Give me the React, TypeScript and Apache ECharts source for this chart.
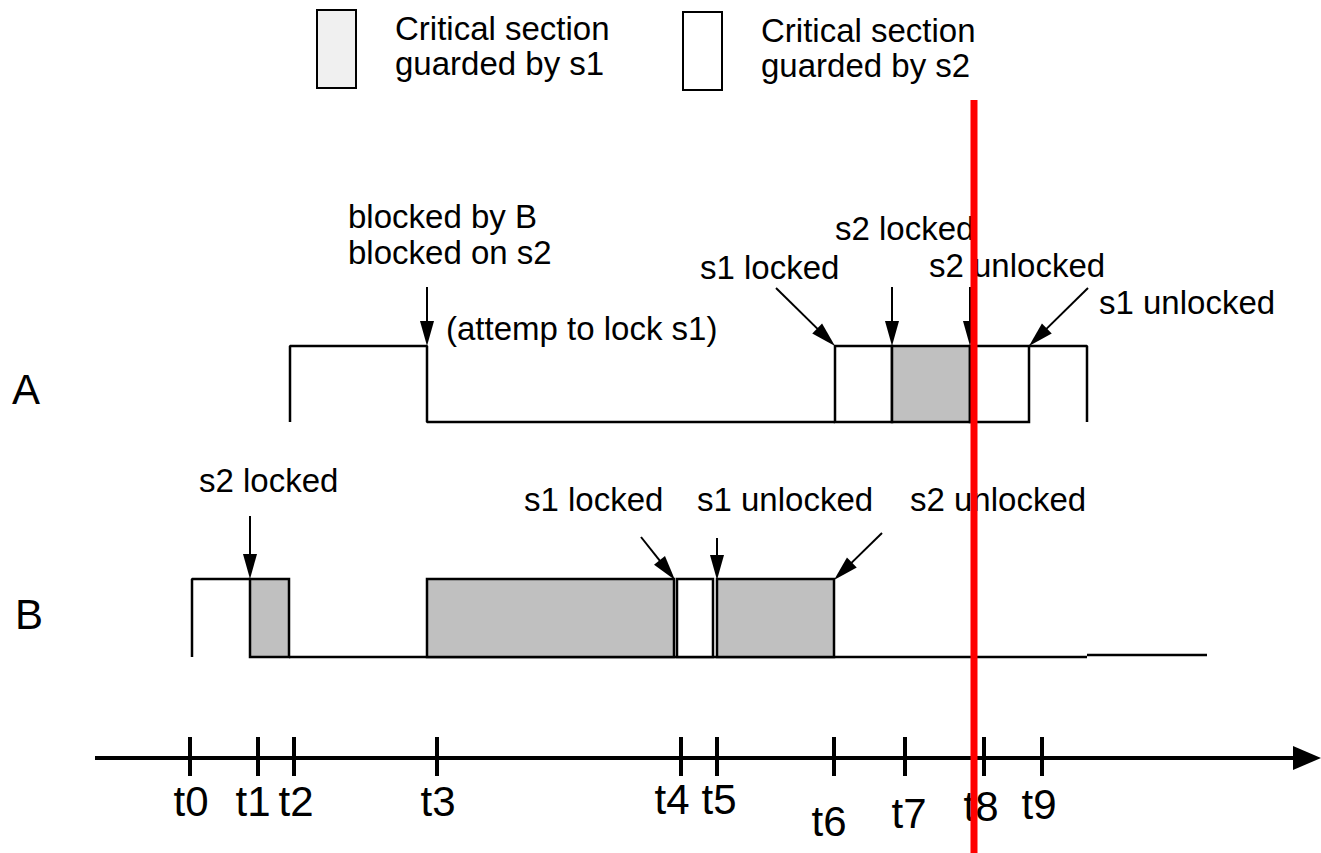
import React, { useEffect, useRef } from "react";
import * as echarts from "echarts";

const FONT = '"Liberation Sans", Arial, Helvetica, sans-serif';

// Time axis (x in time units, y in level units)
const tickTimes = [190, 258, 294, 437, 681, 717, 834, 905, 984, 1042];
const tickLabels = ["t0", "t1", "t2", "t3", "t4", "t5", "t6", "t7", "t8", "t9"];
const tickLabelX = [191, 253, 296, 438, 672, 719, 829, 909, 981, 1039];
const tickLabelY = [801, 801, 801, 801, 799, 799, 821, 813, 806, 804];
const axisLevel = 758;
const axisStart = 95;
const axisEnd = 1321;

// Lanes: top/bottom levels
const laneNames = ["A", "B"];
const laneHigh = [346, 579];
const laneLow = [422, 657];
const laneLabelX = [12, 15];
const laneLabelY = [389, 614];

// Waveform segments (time, level)
const waveA1 = [[290, 422], [290, 346], [427, 346], [427, 422], [835, 422]];
const waveA2 = [[1029, 346], [1087, 346], [1087, 422]];
const waveB1 = [[192, 657], [192, 579], [250, 579]];
const waveB2 = [[289, 657], [1087, 657]];
const waveB3 = [[1087, 655], [1207, 655]];

// Critical sections: lane index, start, end, guarded-by
const secLane = [0, 0, 0, 1, 1, 1, 1];
const secStart = [835, 892, 970, 250, 427, 677, 717];
const secEnd = [892, 970, 1029, 289, 674, 713, 834];
const secKind = ["s2", "s1", "s2", "s1", "s1", "s2", "s1"];

// Arrows: from (time, level) to (time, level)
const arrowFrom = [[427, 287], [776, 288], [892, 287], [970, 287], [1088, 288], [250, 516], [641, 537], [717, 538], [882, 533]];
const arrowTo = [[427, 346], [835, 346], [892, 346], [970, 346], [1029, 346], [250, 579], [675, 580], [717, 580], [834, 580]];

// Annotations
const noteText = [
  "blocked by B", "blocked on s2", "(attemp to lock s1)", "s1 locked", "s2 locked", "s2 unlocked", "s1 unlocked",
  "s2 locked", "s1 locked", "s1 unlocked", "s2 unlocked",
];
const noteX = [348, 348, 446, 700, 835, 929, 1099, 199, 524, 697, 910];
const noteY = [216, 252, 328, 267, 228, 265, 302, 480, 499, 499, 499];

// Legend
const legendText = [["Critical section", "guarded by s1"], ["Critical section", "guarded by s2"]];
const legendFill = ["#f0f0f0", "#ffffff"];

// Current time marker
const markerTime = 974;

const kindFill: Record<string, string> = { s1: "#c0c0c0", s2: "#ffffff" };

function waveSeries(data: number[][]) {
  return {
    type: "line",
    data,
    symbol: "none",
    silent: true,
    lineStyle: { color: "#000", width: 2.5 },
    z: 3,
  };
}

export default function App() {
  const ref = useRef<HTMLDivElement>(null);
  useEffect(() => {
    if (!ref.current) return;
    const chart = echarts.init(ref.current, undefined, { renderer: "svg" });

    const textEl = (api: any, x: number, y: number, text: string, size: number) => {
      const p = api.coord([x, y]);
      return {
        type: "text",
        x: p[0],
        y: p[1],
        style: { text, fontSize: size, fontFamily: FONT, fill: "#000", align: "left", verticalAlign: "middle" },
      };
    };

    const option: any = {
      animation: false,
      backgroundColor: "#ffffff",
      grid: { left: 0, right: 0, top: 0, bottom: 0 },
      xAxis: { type: "value", min: 0, max: 1321, show: false },
      yAxis: { type: "value", min: 0, max: 853, inverse: true, show: false },
      graphic: legendText.map((lines, i) => ({
        type: "group",
        x: i === 0 ? 317 : 683,
        y: i === 0 ? 10 : 12,
        children: [
          { type: "rect", shape: { x: 0, y: 0, width: 39, height: 78 }, style: { fill: legendFill[i], stroke: "#000", lineWidth: 2 } },
          { type: "text", x: 78, y: 18, style: { text: lines[0], fontSize: 33, fontFamily: FONT, fill: "#000", verticalAlign: "middle" } },
          { type: "text", x: 78, y: 53, style: { text: lines[1], fontSize: 33, fontFamily: FONT, fill: "#000", verticalAlign: "middle" } },
        ],
      })),
      series: [
        waveSeries(waveA1),
        waveSeries(waveA2),
        waveSeries(waveB1),
        waveSeries(waveB2),
        waveSeries(waveB3),
        {
          type: "custom",
          silent: true,
          z: 4,
          data: secStart.map((s, i) => [s, secEnd[i], laneHigh[secLane[i]], laneLow[secLane[i]]]),
          renderItem: (params: any, api: any) => {
            const i = params.dataIndex;
            const p0 = api.coord([api.value(0), api.value(2)]);
            const p1 = api.coord([api.value(1), api.value(3)]);
            return {
              type: "rect",
              shape: { x: p0[0], y: p0[1], width: p1[0] - p0[0], height: p1[1] - p0[1] },
              style: { fill: kindFill[secKind[i]], stroke: "#000", lineWidth: 2.5 },
            };
          },
        },
        {
          type: "custom",
          silent: true,
          z: 5,
          data: arrowFrom.map((f, i) => [f[0], f[1], arrowTo[i][0], arrowTo[i][1]]),
          renderItem: (params: any, api: any) => {
            const s = api.coord([api.value(0), api.value(1)]);
            const e = api.coord([api.value(2), api.value(3)]);
            const dx = e[0] - s[0];
            const dy = e[1] - s[1];
            const len = Math.hypot(dx, dy);
            const ux = dx / len;
            const uy = dy / len;
            const hl = 25;
            const hw = 7;
            const bx = e[0] - ux * hl;
            const by = e[1] - uy * hl;
            return {
              type: "group",
              children: [
                { type: "line", shape: { x1: s[0], y1: s[1], x2: bx + ux * 2, y2: by + uy * 2 }, style: { stroke: "#000", lineWidth: 2 } },
                {
                  type: "polygon",
                  shape: { points: [[e[0], e[1]], [bx - uy * hw, by + ux * hw], [bx + uy * hw, by - ux * hw]] },
                  style: { fill: "#000" },
                },
              ],
            };
          },
        },
        {
          type: "custom",
          silent: true,
          z: 5,
          data: [[axisStart, axisEnd, axisLevel]],
          renderItem: (params: any, api: any) => {
            const s = api.coord([api.value(0), api.value(2)]);
            const e = api.coord([api.value(1), api.value(2)]);
            const ticks = tickTimes.map((t) => {
              const p = api.coord([t, axisLevel]);
              return { type: "line", shape: { x1: p[0], y1: p[1] - 21, x2: p[0], y2: p[1] + 18 }, style: { stroke: "#000", lineWidth: 4 } };
            });
            return {
              type: "group",
              children: [
                { type: "line", shape: { x1: s[0], y1: s[1], x2: e[0] - 20, y2: e[1] }, style: { stroke: "#000", lineWidth: 4 } },
                { type: "polygon", shape: { points: [[e[0], e[1]], [e[0] - 28, e[1] - 12], [e[0] - 28, e[1] + 12]] }, style: { fill: "#000" } },
                ...ticks,
              ],
            };
          },
        },
        {
          type: "custom",
          silent: true,
          z: 6,
          data: tickLabels.map((_, i) => [tickLabelX[i], tickLabelY[i]]),
          renderItem: (params: any, api: any) => {
            const i = params.dataIndex;
            const el: any = textEl(api, api.value(0), api.value(1), tickLabels[i], 42);
            el.style.align = "center";
            return el;
          },
        },
        {
          type: "custom",
          silent: true,
          z: 6,
          data: noteText.map((_, i) => [noteX[i], noteY[i]]),
          renderItem: (params: any, api: any) => textEl(api, api.value(0), api.value(1), noteText[params.dataIndex], 33),
        },
        {
          type: "custom",
          silent: true,
          z: 6,
          data: laneNames.map((_, i) => [laneLabelX[i], laneLabelY[i]]),
          renderItem: (params: any, api: any) => textEl(api, api.value(0), api.value(1), laneNames[params.dataIndex], 42),
        },
        {
          type: "line",
          data: [[markerTime, 100], [markerTime, 853]],
          symbol: "none",
          silent: true,
          lineStyle: { color: "#ff0000", width: 7 },
          z: 10,
        },
      ],
    };
    chart.setOption(option);
    return () => chart.dispose();
  }, []);

  return <div ref={ref} style={{ position: "absolute", left: 0, top: 0, width: 1321, height: 853 }} />;
}
